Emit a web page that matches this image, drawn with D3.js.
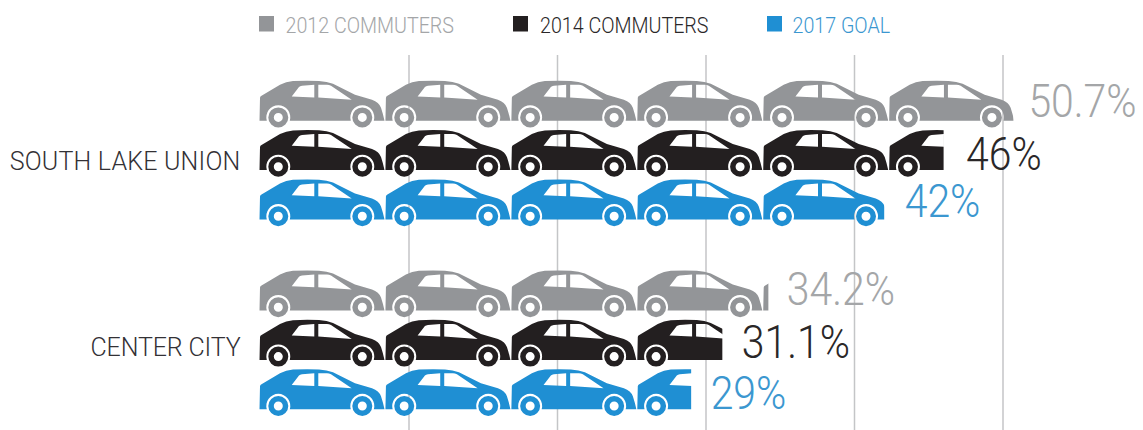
<!DOCTYPE html>
<html>
<head>
<meta charset="utf-8">
<script src="https://cdn.jsdelivr.net/npm/d3@7"></script>
<style>
  html, body { margin: 0; padding: 0; background: #fff; }
  svg { display: block; }
  text { font-family: Roboto, "Open Sans", sans-serif; }
</style>
</head>
<body>
<svg id="chart" width="1143" height="430"></svg>
<script>
// Drive-alone commuter share by neighbourhood, shown as rows of cropped car icons.
const categories = ["SOUTH LAKE UNION", "CENTER CITY"];
const seriesNames = ["2012 COMMUTERS", "2014 COMMUTERS", "2017 GOAL"];
const southLakeUnion = [50.7, 46, 42];
const centerCity = [34.2, 31.1, 29];
const valueLabels = [["50.7%", "46%", "42%"], ["34.2%", "31.1%", "29%"]];
const gridTicks = [10, 20, 30, 40, 50];
const fillColors = ["#939598", "#231f20", "#1f8fd3"];
const textColors = ["#a4a6a8", "#2a2728", "#3b97d0"];
const carShare = 8.48; // percentage points one whole car stands for

const rows = [southLakeUnion, centerCity];

const svg = d3.select("#chart");
const x = d3.scaleLinear().domain([0, 50]).range([260.5, 1003]);
const groupY = d3.scalePoint().domain(categories).range([80.7, 270.5]);
const rowY = d3.scalePoint().domain(seriesNames).range([0, 98.8]);

// Hand-set typography: the narrow headline face is approximated by squeezing Roboto.
const legendSqueeze = 0.915;
const valueSqueeze = 0.89;
const legendSwatchX = [259, 513, 767];
const legendTextX = [285.5, 540, 792.5];
const categoryBaseline = [170, 355.5];
const categoryTracking = [0.2, -0.15];
const valueBaseline = [[36, 40, 37.2], [34.5, 38, 39.7]];
const valueGap = [[15, 22.5, 20.5], [18.5, 19.5, 19.5]];

// Car icon: body with window and wheel-arch cut-outs, plus two ring wheels.
const wheel = (cx, cy, r) =>
  `M${cx - r},${cy}a${r},${r} 0 1 0 ${2 * r},0a${r},${r} 0 1 0 ${-2 * r},0Z`;
const carPath = [
  "M0.5,40L1,17Q1.2,15.5 2.5,15L21,4Q27,1 34,0.3Q47,-0.3 60,0.2Q68,0.6 74,3L96,14L113,19",
  "Q120,21.5 122,27Q124,33 125.5,40",
  "L114.8,40A12,12 0 1 0 91.8,40L30.8,40A12,12 0 1 0 7.8,40L0.5,40Z",
  "M32.7,15.7L40,6.2Q41,5.2 43,5L55.3,4L55.3,16.7Z",
  "M59.3,4L68,4Q70,4 72,5L92.7,19L59.3,16.7Z",
  wheel(19.3, 36.7, 10), wheel(19.3, 36.7, 4.5),
  wheel(103.3, 36.7, 10), wheel(103.3, 36.7, 4.5)
].join("");

// Gridlines sit behind the cars.
svg.append("g").selectAll("line").data(gridTicks).join("line")
  .attr("x1", d => x(d)).attr("x2", d => x(d))
  .attr("y1", 55).attr("y2", 430)
  .attr("stroke", "#c4c5c7").attr("stroke-width", 1.5);

// Legend
const legend = svg.append("g").selectAll("g").data(seriesNames).join("g");
legend.append("rect")
  .attr("x", (d, i) => legendSwatchX[i]).attr("y", 16)
  .attr("width", 15).attr("height", 15.5)
  .attr("fill", (d, i) => fillColors[i]);
legend.append("text")
  .attr("transform", (d, i) => `translate(${legendTextX[i]},33.3) scale(${legendSqueeze},1)`)
  .attr("font-size", 21.5).attr("font-weight", 300)
  .attr("fill", (d, i) => textColors[i])
  .text(d => d);

// Rows of cars, clipped at each value, with the value printed after them.
const defs = svg.append("defs");
categories.forEach((cat, c) => {
  const top = groupY(cat);
  svg.append("text")
    .attr("x", 240.5).attr("y", categoryBaseline[c])
    .attr("text-anchor", "end")
    .attr("font-size", 25).attr("font-weight", 300).attr("letter-spacing", categoryTracking[c])
    .attr("fill", "#333135").text(cat);

  seriesNames.forEach((name, s) => {
    const value = rows[c][s];
    const y = top + rowY(name);
    const clipId = `clip-${c}-${s}`;
    defs.append("clipPath").attr("id", clipId).append("rect")
      .attr("x", 0).attr("y", y - 2)
      .attr("width", x(value)).attr("height", 52);
    svg.append("g").attr("clip-path", `url(#${clipId})`)
      .selectAll("path").data(d3.range(Math.ceil(value / carShare))).join("path")
      .attr("transform", i => `translate(${x(i * carShare) - 1.5},${y})`)
      .attr("d", carPath)
      .attr("fill-rule", "evenodd")
      .attr("fill", fillColors[s]);
    svg.append("text")
      .attr("transform", `translate(${x(value) + valueGap[c][s]},${y + valueBaseline[c][s]}) scale(${valueSqueeze},1)`)
      .attr("font-size", 46).attr("font-weight", 300)
      .attr("fill", textColors[s])
      .text(valueLabels[c][s]);
  });
});
</script>
</body>
</html>
